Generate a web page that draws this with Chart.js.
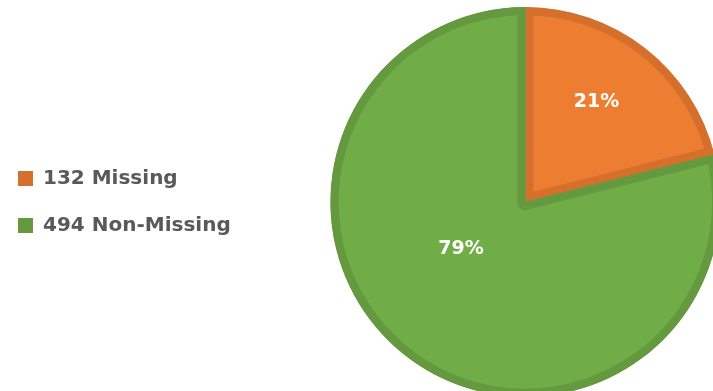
<!DOCTYPE html>
<html>
<head>
<meta charset="utf-8">
<script src="https://cdn.jsdelivr.net/npm/chart.js@4/dist/chart.umd.min.js"></script>
<style>
  html, body { margin: 0; padding: 0; background: #fff; overflow: hidden; }
  #frame { position: relative; width: 713px; height: 391px; overflow: hidden; }
  #wrap { position: absolute; left: -9px; top: 0; width: 819px; height: 404px; }
</style>
</head>
<body>
<div id="frame"><div id="wrap"><canvas id="pie-chart"></canvas></div></div>
<script>
const names_pie = ["Missing", "Non-Missing"];
const counts_pie = [132, 494];

const FILL_PIE = ["#ED7D31", "#70AD47"];
const EDGE_PIE = ["#D4702C", "#64993F"];
// where each percent label sits: fraction of radius, angle shift in degrees
const LABEL_R = [0.63, 0.41];
const LABEL_SHIFT = [-2.6, 15.6];

const total_pie = counts_pie.reduce((a, b) => a + b, 0);

const pctLabels = {
  id: "pctLabels",
  afterDatasetsDraw(chart) {
    const ctx = chart.ctx;
    const meta = chart.getDatasetMeta(0);
    ctx.save();
    ctx.font = "bold 19px 'DejaVu Sans'";
    ctx.fillStyle = "#ffffff";
    ctx.textAlign = "center";
    ctx.textBaseline = "middle";
    meta.data.forEach((arc, i) => {
      const p = arc.getProps(["x", "y", "startAngle", "endAngle", "outerRadius"], true);
      const a = (p.startAngle + p.endAngle) / 2 + LABEL_SHIFT[i] * Math.PI / 180;
      const r = p.outerRadius * LABEL_R[i];
      const txt = Math.round(counts_pie[i] / total_pie * 100) + "%";
      ctx.fillText(txt, p.x + Math.cos(a) * r, p.y + Math.sin(a) * r);
    });
    ctx.restore();
  },
};

const data_pie = {
  labels: names_pie.map((n, i) => counts_pie[i] + " " + n),
  datasets: [
    {
      data: counts_pie,
      backgroundColor: FILL_PIE,
      borderColor: EDGE_PIE,
      borderWidth: 8,
      borderAlign: "inner",
    },
  ],
};

const config_pie = {
  type: "pie",
  data: data_pie,
  plugins: [pctLabels],
  options: {
    responsive: true,
    maintainAspectRatio: false,
    animation: false,
    radius: 195,
    layout: { padding: 0 },
    plugins: {
      tooltip: { enabled: false },
      legend: {
        position: "left",
        labels: {
          boxWidth: 15,
          boxHeight: 15,
          padding: 27,
          color: "#595959",
          font: { family: "'DejaVu Sans'", size: 20, weight: "bold" },
          generateLabels(chart) {
            return chart.data.labels.map((t, i) => ({
              text: t,
              fillStyle: EDGE_PIE[i],
              strokeStyle: EDGE_PIE[i],
              lineWidth: 0,
              fontColor: "#595959",
              index: i,
            }));
          },
        },
      },
    },
  },
};

var ctx_pie = document.getElementById("pie-chart").getContext("2d");
var myChart_pie = new Chart(ctx_pie, config_pie);
</script>
</body>
</html>
